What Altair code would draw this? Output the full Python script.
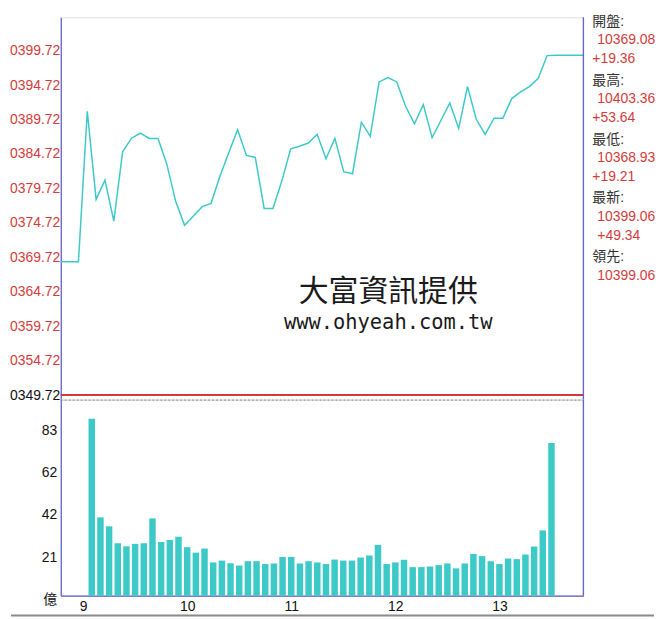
import altair as alt
import pandas as pd

# ---- data (minutes after 09:00) ----
price_times = [-10, 0, 5, 10, 15, 20, 25, 30, 35, 40, 45, 50, 55, 60, 65, 70, 75, 80, 85, 90,
               95, 100, 105, 110, 115, 120, 125, 130, 135, 140, 145, 150, 155, 160, 165, 170,
               175, 180, 185, 190, 195, 200, 205, 210, 215, 220, 225, 230, 235, 240, 245, 250,
               255, 260, 265, 270, 285.5]
price_values = [10369.08, 10369.08, 10390.92, 10378.13, 10380.92, 10374.98, 10385.04, 10387.01,
                10387.73, 10386.97, 10386.97, 10383.20, 10377.84, 10374.36, 10375.71, 10377.07,
                10377.55, 10381.50, 10384.89, 10388.23, 10384.50, 10384.21, 10376.82, 10376.82,
                10380.78, 10385.47, 10385.85, 10386.31, 10387.58, 10384.02, 10387.01, 10382.14,
                10381.85, 10389.33, 10387.26, 10395.18, 10395.81, 10395.18, 10391.65, 10389.10,
                10391.89, 10387.07, 10389.62, 10392.14, 10388.42, 10394.50, 10389.72, 10387.55,
                10389.91, 10389.91, 10392.76, 10393.73, 10394.50, 10395.71, 10399.00, 10399.06,
                10399.06]

vol_times = list(range(5, 275, 5))
vol_values = [86.7, 38.4, 34.0, 25.7, 24.2, 25.4, 25.7, 37.9, 26.3, 27.3,
              28.9, 23.8, 21.1, 23.1, 16.3, 17.2, 15.9, 14.8, 16.9, 16.9,
              15.5, 15.8, 19.0, 19.0, 15.8, 16.9, 16.3, 15.5, 17.7, 17.2,
              17.2, 18.7, 19.7, 24.9, 15.5, 16.3, 17.6, 14.0, 14.0, 14.3,
              15.0, 15.8, 13.4, 15.8, 20.5, 19.4, 16.9, 15.5, 18.2, 17.9,
              20.2, 24.1, 32.0, 74.8]

prev_close = 10349.72
price_ticks = [round(10349.72 + 5 * k, 2) for k in range(11)]
vol_ticks = [0, 20.75, 41.5, 62.25, 83]
hour_ticks = [0, 60, 120, 180, 240]

info_labels = ["開盤:", "最高:", "最低:", "最新:", "領先:"]
info_values = ["10369.08", "10403.36", "10368.93", "10399.06", "10399.06"]
info_changes = ["+19.36", "+53.64", "+19.21"]
info_change_last = ["+49.34"]

watermark = "大富資訊提供"
watermark_url = "www.ohyeah.com.tw"

# ---- styling ----
W = 525
H_PRICE = 384
H_VOL = 197
TEAL = "#3ec9c9"
AXIS_BLUE = "#5b5bc8"
RED = "#d23c3c"
FONT = "Liberation Sans, Noto Sans CJK TC"

price_df = pd.DataFrame({"t": price_times, "price": price_values})
vol_df = pd.DataFrame({"t": vol_times, "vol": vol_values})

x_scale = alt.Scale(domain=[-10, 285.5], nice=False, zero=False)
y_price_scale = alt.Scale(domain=[10349.06, 10404.55], nice=False, zero=False)

price_axis = alt.Axis(values=price_ticks, title=None, grid=False, ticks=False,
                      labelOverlap=False, labelSeparation=0,
                      labelExpr="substring(format(datum.value, '.2f'), 1)",
                      labelColor={"condition": {"test": "datum.value < 10350", "value": "#111111"},
                                  "value": RED},
                      labelFontSize=14, labelPadding=1, labelFont=FONT,
                      domainColor=AXIS_BLUE, domainWidth=1.2)

price_line = alt.Chart(price_df).mark_line(color=TEAL, strokeWidth=1.5).encode(
    x=alt.X("t:Q", scale=x_scale, axis=None),
    y=alt.Y("price:Q", scale=y_price_scale, axis=price_axis),
)

close_rule = alt.Chart(pd.DataFrame({"price": [prev_close]})).mark_rule(
    color="#d03a3a", strokeWidth=2).encode(y=alt.Y("price:Q", scale=y_price_scale, axis=price_axis))

right_border_p = alt.Chart(pd.DataFrame({"a": [0]})).mark_rule(
    color=AXIS_BLUE, strokeWidth=1.2).encode(
    x=alt.value(W), y=alt.value(0), y2=alt.value(H_PRICE))

wm1 = alt.Chart(pd.DataFrame({"s": [watermark]})).mark_text(
    font="Noto Sans CJK TC", fontSize=30, color="#1a1a1a", align="center", baseline="middle"
).encode(text="s:N", x=alt.value(329), y=alt.value(276))

wm2 = alt.Chart(pd.DataFrame({"s": [watermark_url]})).mark_text(
    font="DejaVu Sans Mono", fontSize=20.5, color="#1a1a1a", align="center", baseline="middle"
).encode(text="s:N", x=alt.value(329), y=alt.value(307))

LH = 59.1
t_labels = alt.Chart(pd.DataFrame({"s": ["\n".join(info_labels)]})).mark_text(
    font=FONT, fontSize=14, color="#333333", align="left", baseline="alphabetic",
    lineBreak="\n", lineHeight=LH).encode(text="s:N", x=alt.value(534), y=alt.value(8.7))
t_values = alt.Chart(pd.DataFrame({"s": ["\n".join(info_values)]})).mark_text(
    font=FONT, fontSize=14, color=RED, align="left", baseline="alphabetic",
    lineBreak="\n", lineHeight=LH).encode(text="s:N", x=alt.value(539), y=alt.value(27.0))
t_changes = alt.Chart(pd.DataFrame({"s": ["\n".join(info_changes)]})).mark_text(
    font=FONT, fontSize=14, color=RED, align="left", baseline="alphabetic",
    lineBreak="\n", lineHeight=LH).encode(text="s:N", x=alt.value(534), y=alt.value(46.3))
t_change_last = alt.Chart(pd.DataFrame({"s": info_change_last})).mark_text(
    font=FONT, fontSize=14, color=RED, align="left", baseline="alphabetic"
).encode(text="s:N", x=alt.value(539), y=alt.value(223.7))

price_panel = alt.layer(
    price_line, close_rule, right_border_p, wm1, wm2, t_labels, t_values, t_changes, t_change_last
).properties(width=W, height=H_PRICE)

bars = alt.Chart(vol_df).mark_bar(color=TEAL, size=6.5).encode(
    x=alt.X("t:Q", scale=x_scale,
            axis=alt.Axis(values=hour_ticks, title=None, grid=False, ticks=False,
                          labelExpr="format(9 + datum.value / 60, 'd')",
                          labelFontSize=14, labelColor="#111111", labelPadding=4,
                          labelFlush=False, labelFont=FONT,
                          domainColor=AXIS_BLUE, domainWidth=1.2)),
    y=alt.Y("vol:Q", scale=alt.Scale(domain=[0, 96.1], nice=False),
            axis=alt.Axis(values=vol_ticks, title=None, grid=False, ticks=False,
                          labelOverlap=False, labelOffset=4,
                          labelExpr="datum.value == 0 ? '億' : format(datum.value, '.0f')",
                          labelFontSize=14, labelColor="#111111", labelPadding=4,
                          labelFont=FONT, domainColor=AXIS_BLUE, domainWidth=1.2)),
)

dash_rule = alt.Chart(pd.DataFrame({"a": [0]})).mark_rule(
    color="#9a8a80", strokeWidth=1, strokeDash=[2, 2]).encode(
    x=alt.value(0), x2=alt.value(W), y=alt.value(0.5))

right_border_v = alt.Chart(pd.DataFrame({"a": [0]})).mark_rule(
    color=AXIS_BLUE, strokeWidth=1.2).encode(
    x=alt.value(W), y=alt.value(0), y2=alt.value(H_VOL))

bottom_line = alt.Chart(pd.DataFrame({"a": [0]})).mark_rule(
    color="#8a8a8a", strokeWidth=2).encode(
    x=alt.value(-50), x2=alt.value(596), y=alt.value(H_VOL + 20))

vol_panel = alt.layer(bars, dash_rule, right_border_v, bottom_line).properties(
    width=W, height=H_VOL)

chart = alt.vconcat(price_panel, vol_panel, spacing=0, bounds="flush").properties(
    padding={"left": 0, "top": 5, "right": 0, "bottom": 0}
).configure_view(stroke=None).configure_axis(labelOverlap=False).configure(font=FONT)

chart.save("out.html", embed_options={"renderer": "svg", "actions": False})
